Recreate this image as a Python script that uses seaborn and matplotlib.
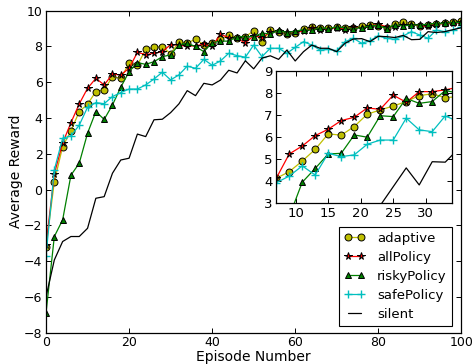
import matplotlib
matplotlib.use("Agg")
import matplotlib.pyplot as plt
import seaborn as sns

# ---- main plot data (episode, average reward) ----
episodes = [0, 2, 4, 6, 8, 10, 12, 14, 16, 18, 20, 22, 24, 26, 28, 30, 32, 34, 36, 38,
            40, 42, 44, 46, 48, 50, 52, 54, 56, 58, 60, 62, 64, 66, 68, 70, 72, 74, 76, 78,
            80, 82, 84, 86, 88, 90, 92, 94, 96, 98, 100]

adaptive = [-3.2, 0.44, 2.4, 3.28, 4.36, 4.77, 5.48, 5.57, 6.31, 6.22,
            7.06, 6.95, 7.84, 7.95, 7.99, 7.6, 8.25, 8.2, 8.4, 8.1,
            8.21, 8.4, 8.64, 8.49, 8.55, 8.87, 8.24, 8.92, 8.83, 8.7,
            8.74, 8.96, 9.1, 9.02, 9.02, 9.07, 9.02, 9.02, 9.15, 9.2,
            9.15, 9.02, 9.26, 9.39, 9.26, 9.15, 9.2, 9.26, 9.3, 9.39,
            9.44]
allPolicy = [-3.1, 0.87, 2.6, 3.74, 4.79, 5.66, 6.22, 5.85, 6.45, 6.41,
             6.78, 7.67, 7.55, 7.62, 7.71, 8.1, 8.08, 8.0, 8.05, 8.12,
             8.0, 8.68, 8.5, 8.45, 8.2, 8.6, 8.5, 8.8, 8.85, 8.82,
             8.8, 8.85, 9.02, 8.95, 9.0, 9.05, 8.95, 9.1, 9.02, 9.15,
             9.25, 9.1, 9.1, 9.2, 9.2, 9.18, 9.12, 9.25, 9.3, 9.3,
             9.35]
riskyPolicy = [-6.9, -2.63, -1.7, 0.8, 1.47, 3.15, 4.36, 3.92, 4.73, 5.72,
               6.59, 7.1, 7.0, 7.15, 7.43, 7.53, 8.1, 8.18, 8.0, 7.71,
               8.21, 8.3, 8.3, 8.55, 8.55, 8.55, 8.75, 8.7, 8.9, 8.78,
               8.85, 8.95, 8.9, 9.05, 9.0, 9.1, 9.05, 9.0, 9.05, 9.15,
               9.2, 9.0, 9.22, 9.15, 9.2, 9.2, 9.25, 9.3, 9.3, 9.35,
               9.35]
safePolicy = [-3.7, 1.1, 2.87, 3.0, 3.6, 4.6, 4.86, 4.8, 5.2, 5.42,
              5.62, 5.62, 5.85, 6.18, 6.56, 6.13, 6.41, 6.9, 6.78, 7.28,
              6.95, 7.19, 7.62, 7.49, 7.4, 8.08, 7.43, 7.9, 7.9, 7.62,
              7.95, 8.27, 8.08, 7.8, 7.84, 7.77, 8.27, 8.46, 8.18, 8.33,
              8.6, 8.46, 8.4, 8.59, 8.83, 8.64, 8.46, 8.92, 8.83, 8.92,
              9.1]
silent = [-6.0, -3.94, -2.91, -2.63, -2.63, -2.17, -0.49, -0.4, 0.91, 1.65,
          1.75, 3.1, 2.96, 3.9, 3.93, 4.3, 4.79, 5.53, 5.25, 5.94,
          5.85, 6.12, 6.67, 6.52, 7.2, 6.75, 7.35, 7.48, 7.28, 7.8,
          7.19, 7.71, 8.08, 7.9, 7.9, 7.71, 8.18, 8.42, 8.44, 8.27,
          8.57, 8.55, 8.5, 8.62, 8.38, 8.4, 8.83, 8.78, 8.83, 8.94,
          9.05]

# ---- inset data ----
inset_episodes = [7, 9, 11, 13, 15, 17, 19, 21, 23, 25, 27, 29, 31, 33, 35]
inset_adaptive = [4.13, 4.43, 4.91, 5.44, 6.14, 6.08, 6.47, 7.03, 7.22, 7.4, 7.6, 7.87, 7.95, 7.78, 7.82]
inset_allPolicy = [4.13, 5.23, 5.59, 6.06, 6.35, 6.74, 6.89, 7.31, 7.25, 7.89, 7.57, 8.05, 8.05, 8.13, 8.25]
inset_riskyPolicy = [1.0, 2.4, 3.95, 4.58, 5.23, 5.26, 6.09, 5.99, 6.96, 6.92, 7.74, 7.52, 7.6, 8.1, 7.98]
inset_safePolicy = [3.93, 4.23, 4.69, 4.28, 5.26, 5.11, 5.19, 5.67, 5.86, 5.86, 6.85, 6.32, 6.24, 6.95, 6.7]
inset_silent = [-0.5, 0.2, 0.8, 1.3, 1.5, 1.9, 2.2, 2.4, 2.9, 3.75, 4.6, 3.83, 4.88, 4.86, 5.45]

series_names = ["adaptive", "allPolicy", "riskyPolicy", "safePolicy", "silent"]
x_ticks = [0, 20, 40, 60, 80, 100]
y_ticks = [-8, -6, -4, -2, 0, 2, 4, 6, 8, 10]
inset_x_ticks = [10, 15, 20, 25, 30]
inset_y_ticks = [3, 4, 5, 6, 7, 8, 9]

sns.set_style("ticks")
plt.rcParams['font.family'] = ['DejaVu Sans']
plt.rcParams['axes.edgecolor'] = 'black'
plt.rcParams['xtick.color'] = 'black'
plt.rcParams['ytick.color'] = 'black'
plt.rcParams['text.color'] = 'black'
plt.rcParams['axes.labelcolor'] = 'black'

YEL = (0.75, 0.75, 0.0)
RED = (1.0, 0.0, 0.0)
GRN = (0.0, 0.5, 0.0)
CYN = (0.0, 0.75, 0.75)

styles = {
    "adaptive": dict(color=YEL, marker='o', markerfacecolor=YEL, markeredgecolor='k', markersize=5),
    "allPolicy": dict(color=RED, marker='*', markerfacecolor=RED, markeredgecolor='k', markersize=5.5),
    "riskyPolicy": dict(color=GRN, marker='^', markerfacecolor=GRN, markeredgecolor='k', markersize=5),
    "safePolicy": dict(color=CYN, marker='+', markeredgecolor=CYN, markersize=6, markeredgewidth=1.0),
    "silent": dict(color='k'),
}

fig = plt.figure(figsize=(4.73, 3.64), dpi=100)
ax = fig.add_axes([0.0973, 0.0865, 0.878, 0.884])

main_data = [adaptive, allPolicy, riskyPolicy, safePolicy, silent]
for name, vals in zip(series_names, main_data):
    kw = dict(styles[name])
    kw.setdefault("markeredgewidth", 0.7)
    sns.lineplot(x=episodes, y=vals, ax=ax, label=name, linewidth=0.9, **kw)

ax.set_xlim(0, 100)
ax.set_ylim(-8, 10)
ax.set_xticks(x_ticks)
ax.set_yticks(y_ticks)
ax.tick_params(direction='in', top=True, right=True, length=3.5, width=0.7, labelsize=9, pad=2.5)
for s in ax.spines.values():
    s.set_linewidth(0.9)
    s.set_color('k')
ax.set_xlabel("Episode Number", fontsize=10, labelpad=1)
ax.set_ylabel("Average Reward", fontsize=10, labelpad=1)

ax.legend(loc='lower right', bbox_to_anchor=(452 / 473, 1 - 326 / 364), bbox_transform=fig.transFigure,
          borderaxespad=0, numpoints=2, fancybox=False, edgecolor='k', framealpha=1,
          fontsize=9.5, handlelength=1.6, handletextpad=0.9, labelspacing=0.45, borderpad=0.4)
ax.get_legend().get_frame().set_linewidth(0.8)

# ---- inset ----
axin = fig.add_axes([0.584, 0.4415, 0.371, 0.3645])
axin.set_facecolor('white')
inset_data = [inset_adaptive, inset_allPolicy, inset_riskyPolicy, inset_safePolicy, inset_silent]
for name, vals in zip(series_names, inset_data):
    kw = dict(styles[name])
    kw.setdefault("markeredgewidth", 0.7)
    sns.lineplot(x=inset_episodes, y=vals, ax=axin, linewidth=0.9, legend=False, **kw)
axin.set_xlim(7, 34)
axin.set_ylim(3, 9)
axin.set_xticks(inset_x_ticks)
axin.set_yticks(inset_y_ticks)
axin.tick_params(direction='in', top=True, right=True, length=3.5, width=0.7, labelsize=9.5, pad=2.5)
for s in axin.spines.values():
    s.set_linewidth(0.9)
    s.set_color('k')
axin.set_xlabel("")
axin.set_ylabel("")

fig.savefig("out.png", dpi=100)
